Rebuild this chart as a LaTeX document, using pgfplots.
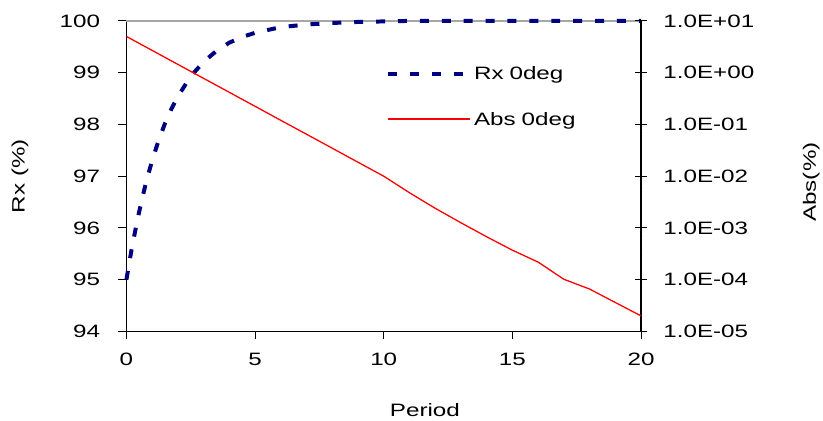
\documentclass[border=0pt]{standalone}
\usepackage{fontspec}
\setmainfont{Liberation Sans}[FakeStretch=1.35]
\usepackage{pgfplots}
\pgfplotsset{compat=1.18}
\definecolor{rxNavy}{HTML}{000080}
\definecolor{absRed}{HTML}{FF0000}

\begin{document}
\begin{tikzpicture}
\pgfplotsset{
  base/.style={
    scale only axis, width=517bp, height=312bp,
    xmin=0, xmax=20,
    /pgf/number format/assume math mode=true,
    tick label style={font=\fontsize{18bp}{21bp}\selectfont},
    label style={font=\fontsize{18bp}{21bp}\selectfont},
    axis line style={black, line width=1.2bp},
    tick style={black, line width=1bp},
    clip=false,
  },
  rxline/.style={draw=rxNavy, line width=4bp, dash pattern=on 9bp off 13bp},
  absline/.style={draw=absRed, line width=1.3bp},
}
\begin{axis}[base,
  axis x line*=bottom, axis y line*=left,
  tick align=outside, major tick length=8bp,
  ymin=94, ymax=100, ytick={94,95,...,100},
  xtick={0,5,10,15,20},
  yticklabel style={xshift=-15bp},
  xticklabel style={yshift=-10bp},
  xlabel={Period}, ylabel={Rx (\%)},
  xlabel style={at={(axis description cs:0.580,-0.253)}, anchor=center},
  ylabel style={at={(axis description cs:-0.207,0.5)}, anchor=center},
]
\draw[gray!70, line width=1.2bp] (rel axis cs:0,1) -- (rel axis cs:1,1);
\addplot[rxline] coordinates {
  (0,95.00) (0.2,95.58) (0.4,96.09) (0.6,96.55) (0.8,96.95) (1,97.30)
  (1.25,97.69) (1.5,98.02) (1.75,98.30) (2,98.54) (2.5,98.93) (3,99.21)
  (3.5,99.42) (4,99.58) (4.5,99.69) (5,99.77) (6,99.88) (7,99.93)
  (8,99.96) (9,99.98) (10,99.99) (11,100) (12,100) (13,100) (14,100)
  (15,100) (16,100) (17,100) (18,100) (19,100) (20,100)
};
\coordinate (bl) at (rel axis cs:0,0);
\end{axis}
\begin{axis}[base,
  ymode=log, axis y line*=right, axis x line=none,
  tick align=center, major tick length=12bp,
  ymin=1e-5, ymax=10,
  ytick={1e-5,1e-4,1e-3,1e-2,1e-1,1,10},
  yticklabels={1.0E-05,1.0E-04,1.0E-03,1.0E-02,1.0E-01,1.0E+00,1.0E+01},
  yticklabel style={xshift=13bp},
  ylabel={Abs(\%)},
  ylabel style={at={(axis description cs:1.331,0.481)}, anchor=center},
  legend style={at={(axis description cs:0.505,0.859)}, anchor=north west,
    draw=none, fill=none, font=\fontsize{18bp}{21bp}\selectfont,
    row sep=27bp, inner sep=0pt},
  legend cell align=left,
  legend image code/.code={\draw[#1] (0bp,0bp) -- (82bp,0bp);},
]
\addplot[absline, forget plot] coordinates {
  (0,5.01) (1,2.69) (2,1.445) (3,0.776) (4,0.417) (5,0.224) (6,0.120)
  (7,0.0646) (8,0.0347) (9,0.0186) (10,0.0100) (11,0.00479) (12,0.00240)
  (13,0.00126) (14,6.76e-4) (15,3.72e-4) (16,2.19e-4) (17,1.02e-4)
  (18,6.6e-5) (19,3.63e-5) (20,2.0e-5)
};
\addlegendimage{rxline}
\addlegendentry{Rx\hspace{6bp}0deg}
\addlegendimage{draw=absRed, line width=2bp}
\addlegendentry{Abs\hspace{6bp}0deg}
\end{axis}
\path[use as bounding box] ([shift={(-127bp,-89bp)}]bl) rectangle ([shift={(696bp,333bp)}]bl);
\end{tikzpicture}
\end{document}
